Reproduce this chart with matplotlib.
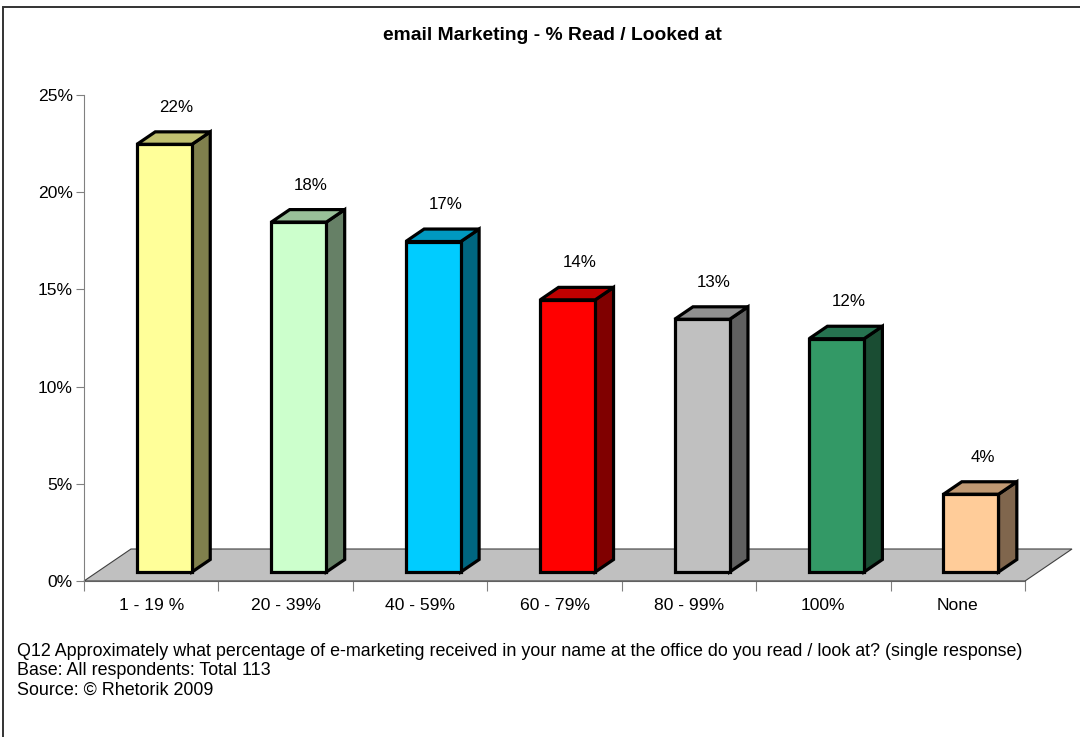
import matplotlib
matplotlib.use("Agg")
import matplotlib.pyplot as plt
from matplotlib.patches import Polygon, Rectangle

plt.rcParams['font.family'] = ['Liberation Sans', 'DejaVu Sans']

categories = ["1 - 19 %", "20 - 39%", "40 - 59%", "60 - 79%", "80 - 99%", "100%", "None"]
values = [22, 18, 17, 14, 13, 12, 4]
front_colors = ["#FFFF99", "#CCFFCC", "#00CCFF", "#FF0000", "#C0C0C0", "#339966", "#FFCC99"]
top_colors = ["#C0C070", "#99C099", "#0099C0", "#C00000", "#909090", "#267350", "#C09973"]
side_colors = ["#80804D", "#668066", "#006680", "#800000", "#606060", "#1A4D33", "#80664D"]
yticks = [0, 5, 10, 15, 20, 25]

title = "email Marketing - % Read / Looked at"
notes = ["Q12 Approximately what percentage of e-marketing received in your name at the office do you read / look at? (single response)",
         "Base: All respondents: Total 113",
         "Source: \u00a9 Rhetorik 2009"]

W, H = 1080, 737
fig = plt.figure(figsize=(W / 100, H / 100), dpi=100)
fig.patch.set_facecolor("white")

# axes box in pixels: x 84..1025, y 95..581 (from top)
ax = fig.add_axes([84 / W, (H - 581) / H, 941 / W, 486 / H])
n = len(categories)
ax.set_xlim(0, n)
ax.set_ylim(0, 25)
ax.patch.set_alpha(0)

px_x = n / 941.0     # data units per pixel
px_y = 25 / 486.0

# floor depth
fdx = 47 * px_x
fdy = 32 * px_y
front_frac = 0.281   # where the bar front sits inside the floor depth
depth_frac = 0.39    # bar depth as part of the floor depth
bw = 55 * px_x

floor = Polygon([(0, 0), (n, 0), (n + fdx, fdy), (fdx, fdy)], closed=True,
                facecolor="#C0C0C0", edgecolor="#404040", lw=0.8, clip_on=False, zorder=1)
ax.add_patch(floor)

ox = front_frac * fdx
oy = front_frac * fdy
ddx = depth_frac * fdx
ddy = depth_frac * fdy
for i, v in enumerate(values):
    x0 = i + 0.5 - bw / 2 + ox
    x1 = x0 + bw
    y0 = oy
    y1 = oy + v
    side = Polygon([(x1, y0), (x1 + ddx, y0 + ddy), (x1 + ddx, y1 + ddy), (x1, y1)],
                   closed=True, facecolor=side_colors[i], edgecolor="black", lw=2.3,
                   joinstyle="miter", clip_on=False, zorder=3)
    top = Polygon([(x0, y1), (x1, y1), (x1 + ddx, y1 + ddy), (x0 + ddx, y1 + ddy)],
                  closed=True, facecolor=top_colors[i], edgecolor="black", lw=2.3,
                  joinstyle="miter", clip_on=False, zorder=3)
    front = Rectangle((x0, y0), bw, v, facecolor=front_colors[i], edgecolor="black",
                      lw=2.3, joinstyle="miter", clip_on=False, zorder=4)
    ax.add_patch(side)
    ax.add_patch(top)
    ax.add_patch(front)
    ax.text(i + 0.5 + ox + 12 * px_x, v + 2.37, "%d%%" % v, ha="center", va="center",
            fontsize=12.2, color="black", zorder=5)

for s in ["top", "right"]:
    ax.spines[s].set_visible(False)
ax.spines["left"].set_color("#808080")
ax.spines["bottom"].set_color("#606060")
ax.spines["bottom"].set_zorder(2)

ax.set_yticks(yticks)
ax.set_yticklabels(["%d%%" % t for t in yticks])
ax.tick_params(axis="y", length=6, color="#808080", labelsize=12.6, pad=2)

ax.set_xticks(range(n + 1))
ax.set_xticklabels([])
ax.set_xticks([i + 0.5 for i in range(n)], minor=True)
ax.set_xticklabels(categories, minor=True)
ax.tick_params(axis="x", which="major", length=7, color="#808080")
ax.tick_params(axis="x", which="minor", length=0, labelsize=12.6, pad=12)

fig.text(552 / W, 1 - 36 / H, title, ha="center", va="center", fontsize=13.9,
         fontweight="bold")
for k, line in enumerate(notes):
    fig.text(17 / W, 1 - (651 + 19.5 * k) / H, line, ha="left", va="center", fontsize=12.85)

# outer frame, open at the right and bottom edges
fig.patches.append(Rectangle((3 / W, -0.1), 2, 1.1 - 7 / H, transform=fig.transFigure,
                             facecolor="none", edgecolor="#333333", lw=1.4))

fig.savefig("out.png", dpi=100)
